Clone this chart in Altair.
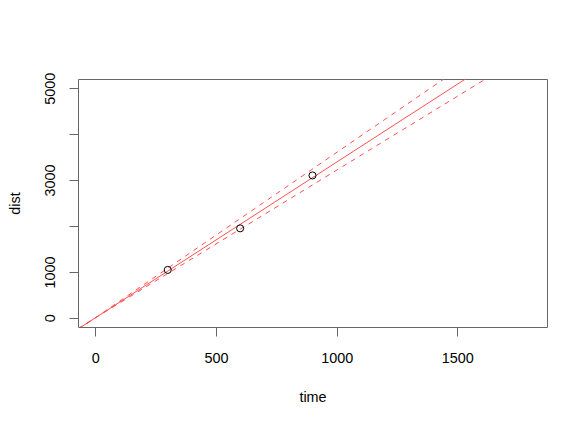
import altair as alt
import pandas as pd

# observed points
time = [300, 600, 900]
dist = [1043, 1948, 3100]

# fitted line through origin and its dashed bounds
line_names = ["fit", "upper", "lower"]
line_slopes = [3.39, 3.60, 3.215]
line_dashed = [False, True, True]

x_domain = [-72, 1872]
y_domain = [-200, 5200]
x_ticks = [0, 500, 1000, 1500]
y_ticks = [0, 1000, 2000, 3000, 4000, 5000]

FONT = "Liberation Sans"
FS = 14.4
RED = "#ff5050"
BOX = "#666666"

pts = pd.DataFrame({"time": time, "dist": dist})

rows = []
for n, s, d in zip(line_names, line_slopes, line_dashed):
    for xv in x_domain:
        rows.append({"name": n, "slope": s, "dashed": d, "time": xv})
lines = pd.DataFrame(rows)

xs = alt.Scale(domain=x_domain, nice=False, zero=False)
ys = alt.Scale(domain=y_domain, nice=False, zero=False)

xaxis = alt.Axis(values=x_ticks, title="time", grid=False, domain=False,
                 format="d",
                 tickSize=9, tickColor=BOX, labelPadding=15.6,
                 labelFont=FONT, labelFontSize=FS, labelColor="#000",
                 titleFont=FONT, titleFontSize=FS, titleFontWeight="normal",
                 titleColor="#000", titleBaseline="alphabetic", titleY=74.4,
                 titleX=234.5)
yaxis = alt.Axis(values=y_ticks, title="dist", grid=False, domain=False,
                 tickSize=9, tickColor=BOX, labelPadding=14.3,
                 labelAngle=270, labelAlign="center", labelBaseline="alphabetic",
                 labelExpr="(datum.value == 2000 || datum.value == 4000) ? '' : datum.label",
                 labelFont=FONT, labelFontSize=FS, labelColor="#000",
                 format="d",
                 titleFont=FONT, titleFontSize=FS, titleFontWeight="normal",
                 titleColor="#000", titleAngle=270, titleBaseline="alphabetic",
                 titleX=-58.5, titleY=124)

base_lines = alt.Chart(lines).transform_calculate(dist="datum.slope * datum.time")

solid = base_lines.transform_filter("!datum.dashed").mark_line(
    color=RED, strokeWidth=1, clip=True
).encode(
    x=alt.X("time:Q", scale=xs, axis=xaxis),
    y=alt.Y("dist:Q", scale=ys, axis=yaxis),
    detail="name:N",
)

dashed = base_lines.transform_filter("datum.dashed").mark_line(
    color=RED, strokeWidth=1, strokeDash=[5, 5], clip=True
).encode(
    x=alt.X("time:Q", scale=xs),
    y=alt.Y("dist:Q", scale=ys),
    detail="name:N",
)

points = alt.Chart(pts).mark_point(
    shape="circle", filled=False, color="#000", size=50, strokeWidth=1, opacity=1
).encode(
    x=alt.X("time:Q", scale=xs),
    y=alt.Y("dist:Q", scale=ys),
)

chart = alt.layer(solid, dashed, points).properties(
    width=469, height=248,
    autosize=alt.AutoSizeParams(type="none"),
    padding={"left": 70, "top": 71, "right": 33, "bottom": 91},
    background="white",
).configure_view(stroke=BOX, strokeWidth=1)

chart.save("out.html", embed_options={"renderer": "svg", "actions": False})
